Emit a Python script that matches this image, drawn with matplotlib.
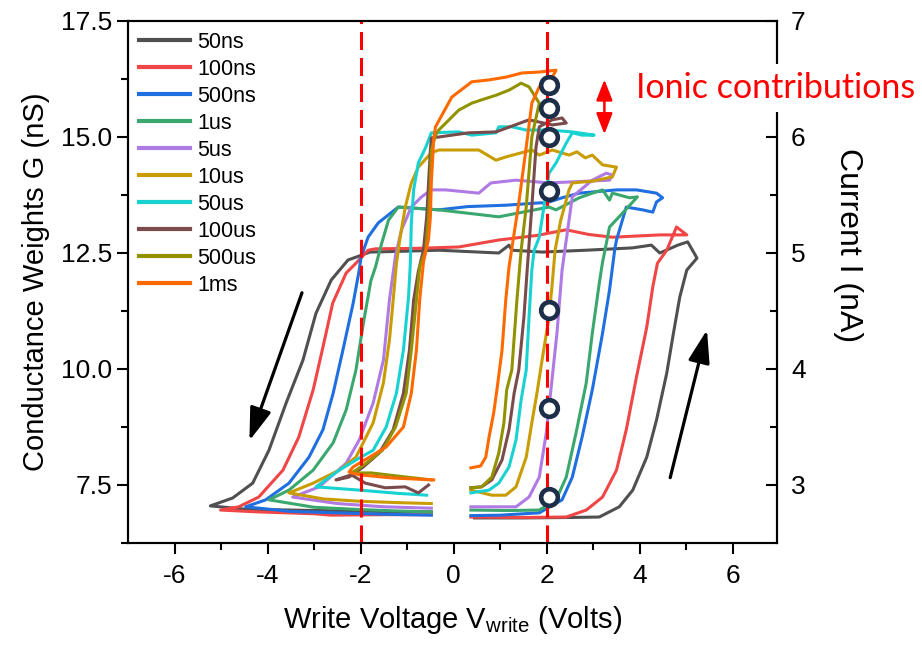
import numpy as np
import matplotlib
matplotlib.use('Agg')
from matplotlib import pyplot as plt

plt.rcParams['font.family'] = ['Liberation Sans', 'DejaVu Sans']
plt.rcParams['axes.unicode_minus'] = False

# pulse widths and colours
labels = ['50ns', '100ns', '500ns', '1us', '5us', '10us', '50us', '100us', '500us', '1ms']
colors = ['#505050', '#f04646', '#1f6fe0', '#3aa86e', '#b07ae4', '#c99c04', '#18d2d2', '#7a4b4b', '#929200', '#ff6a00']

# hysteresis loops (write voltage V, conductance nS)
v_50ns = [0.45, 1.5, 2.5, 3.13, 3.56, 3.85, 4.15, 4.36, 4.58, 4.71, 4.86, 5.01, 5.23, 5.03, 4.82, 4.43, 4.25, 3.84, 2.85, 1.9, 1.25, 1.19, 0.97, -0.32, -1.0, -1.8, -2.1, -2.27, -2.63, -2.96, -3.24, -3.6, -3.97, -4.32, -4.75, -5.23, -4.5, -3.0, -1.5, -0.48]
g_50ns = [6.79, 6.79, 6.8, 6.81, 7.03, 7.39, 8.1, 8.9, 9.91, 10.69, 11.55, 12.13, 12.39, 12.74, 12.67, 12.5, 12.67, 12.61, 12.56, 12.52, 12.56, 12.67, 12.5, 12.56, 12.54, 12.52, 12.41, 12.35, 11.92, 11.2, 10.19, 9.27, 8.25, 7.54, 7.22, 7.05, 6.98, 6.95, 6.93, 6.92]

v_100ns = [0.37, 1.5, 2.42, 2.85, 3.2, 3.5, 3.71, 3.93, 4.15, 4.28, 4.38, 4.58, 4.79, 5.01, 4.43, 3.41, 2.9, 2.42, 1.8, 0.97, 0.11, -0.8, -1.68, -1.84, -2.1, -2.31, -2.6, -2.81, -3.02, -3.33, -3.67, -4.19, -4.62, -5.01, -4.2, -3.0, -2.63, -1.5, -0.48]
g_100ns = [6.81, 6.8, 6.81, 6.96, 7.24, 7.82, 8.69, 9.83, 10.9, 11.77, 12.28, 12.56, 13.06, 12.89, 12.89, 12.84, 12.9, 13.0, 12.88, 12.78, 12.63, 12.6, 12.59, 12.56, 12.28, 12.07, 11.42, 10.47, 9.55, 8.53, 7.82, 7.24, 7.03, 6.96, 6.92, 6.88, 6.85, 6.86, 6.86]

v_500ns = [0.37, 1.0, 1.84, 2.33, 2.55, 2.76, 2.98, 3.2, 3.35, 3.46, 3.5, 3.71, 4.06, 4.28, 4.36, 4.49, 4.36, 3.93, 3.5, 2.7, 2.33, 1.99, 1.84, 1.12, 0.3, -0.32, -1.19, -1.62, -1.84, -1.99, -2.03, -2.16, -2.38, -2.59, -2.81, -3.11, -3.54, -4.04, -4.47, -3.5, -2.5, -1.5, -0.48]
g_500ns = [6.84, 6.85, 6.9, 7.18, 7.67, 8.53, 9.55, 10.77, 11.7, 12.56, 12.78, 13.49, 13.43, 13.38, 13.6, 13.69, 13.79, 13.86, 13.86, 13.79, 13.69, 13.58, 13.58, 13.53, 13.5, 13.43, 13.49, 13.15, 12.84, 12.41, 12.13, 11.42, 10.41, 9.48, 8.69, 8.1, 7.54, 7.18, 7.03, 6.93, 6.9, 6.87, 6.85]

v_1us = [0.37, 1.2, 1.84, 2.2, 2.42, 2.63, 2.85, 2.98, 3.13, 3.2, 3.3, 3.35, 3.63, 3.95, 3.78, 3.41, 3.35, 3.2, 2.98, 2.7, 2.2, 2.05, 0.97, -0.32, -1.19, -1.4, -1.55, -1.68, -1.78, -1.94, -2.1, -2.31, -2.59, -3.02, -3.54, -3.97, -3.0, -2.0, -1.2, -0.48]
g_1us = [6.96, 6.95, 6.96, 7.18, 7.67, 8.62, 9.7, 10.77, 11.85, 12.3, 12.8, 13.06, 13.36, 13.71, 13.69, 13.79, 13.64, 13.86, 13.79, 13.69, 13.43, 13.49, 13.28, 13.43, 13.49, 13.21, 12.7, 12.2, 11.9, 10.99, 9.98, 9.12, 8.41, 7.82, 7.39, 7.18, 7.02, 6.97, 6.94, 6.92]

v_5us = [0.37, 1.34, 1.62, 1.84, 1.99, 2.12, 2.22, 2.33, 2.42, 2.55, 2.98, 3.28, 3.41, 3.35, 2.48, 2.05, 1.34, 0.8, 0.54, -0.17, -0.48, -0.69, -0.91, -1.12, -1.25, -1.38, -1.51, -1.73, -2.03, -2.31, -2.89, -3.46, -2.5, -1.5, -0.48]
g_5us = [7.03, 7.03, 7.24, 7.67, 8.62, 9.83, 10.77, 12.13, 12.78, 13.71, 14.07, 14.22, 14.18, 14.07, 14.03, 14.01, 14.07, 14.01, 13.79, 13.86, 13.86, 13.71, 13.49, 13.0, 12.45, 11.49, 10.19, 9.27, 8.47, 7.97, 7.46, 7.24, 7.1, 7.03, 7.0]

v_10us = [0.37, 0.82, 1.12, 1.34, 1.56, 1.68, 1.79, 1.9, 2.05, 2.12, 2.18, 2.3, 2.48, 2.55, 3.0, 3.41, 3.5, 3.2, 2.98, 2.83, 2.65, 2.48, 2.12, 1.84, 1.68, 1.12, 0.91, 0.54, -0.32, -0.48, -0.76, -0.91, -1.04, -1.15, -1.23, -1.3, -1.38, -1.51, -1.73, -2.1, -2.46, -3.02, -3.54, -2.8, -2.03, -1.2, -0.48]
g_10us = [7.39, 7.28, 7.28, 7.46, 8.1, 8.84, 9.48, 10.19, 11.12, 11.85, 12.56, 13.2, 13.86, 14.01, 14.05, 14.14, 14.35, 14.4, 14.61, 14.55, 14.68, 14.61, 14.72, 14.61, 14.72, 14.57, 14.5, 14.72, 14.72, 14.66, 14.35, 14.01, 13.49, 12.84, 12.28, 11.49, 10.63, 9.7, 8.84, 8.1, 7.82, 7.54, 7.33, 7.2, 7.15, 7.12, 7.1]

v_50us = [0.37, 0.76, 0.97, 1.19, 1.34, 1.45, 1.56, 1.62, 1.68, 1.73, 1.84, 2.05, 2.2, 2.42, 2.55, 2.76, 3.02, 2.55, 2.05, 1.56, 1.25, 0.97, 0.91, 0.39, 0.11, -0.48, -0.6, -0.76, -0.86, -0.91, -0.93, -0.97, -1.08, -1.23, -1.45, -1.73, -2.03, -2.46, -2.96, -2.03, -1.2, -0.58]
g_50us = [7.33, 7.39, 7.54, 7.89, 8.47, 9.33, 9.98, 11.12, 12.13, 12.56, 12.84, 14.22, 14.44, 14.87, 15.09, 15.04, 15.04, 15.11, 15.15, 15.15, 15.22, 15.22, 15.09, 15.04, 15.11, 15.09, 14.78, 14.44, 13.86, 13.15, 12.3, 11.55, 10.41, 9.48, 8.75, 8.25, 8.08, 7.82, 7.46, 7.39, 7.32, 7.28]

v_100us = [0.37, 0.6, 0.82, 1.04, 1.19, 1.3, 1.4, 1.51, 1.58, 1.68, 1.77, 1.84, 2.12, 2.33, 2.42, 2.12, 1.62, 0.91, 0.32, -0.32, -0.48, -0.5, -0.54, -0.58, -0.65, -0.76, -0.86, -0.95, -1.08, -1.3, -1.6, -1.94, -2.25, -2.53, -2.2, -1.9, -1.47, -1.04, -0.76, -0.54]
g_100us = [7.44, 7.46, 7.61, 8.04, 8.69, 9.48, 9.98, 11.12, 12.13, 13.5, 14.78, 15.22, 15.37, 15.41, 15.3, 15.26, 15.37, 15.11, 15.09, 15.0, 14.98, 14.72, 14.01, 13.28, 12.56, 12.1, 11.49, 10.41, 9.48, 8.69, 8.19, 7.89, 7.67, 7.61, 7.72, 7.54, 7.44, 7.46, 7.33, 7.5]

v_500us = [0.37, 0.6, 0.82, 0.97, 1.08, 1.14, 1.25, 1.36, 1.45, 1.56, 1.68, 1.84, 1.62, 1.45, 1.19, 0.91, 0.6, 0.39, 0.11, -0.32, -0.39, -0.48, -0.5, -0.54, -0.6, -0.73, -0.8, -0.91, -1.02, -1.25, -1.53, -1.88, -2.1, -2.2, -1.77, -1.1, -0.48]
g_500us = [7.44, 7.46, 7.67, 8.19, 8.84, 9.55, 9.98, 11.49, 12.56, 13.49, 15.0, 15.73, 16.08, 16.16, 16.01, 15.9, 15.8, 15.73, 15.58, 15.15, 15.04, 14.72, 14.01, 13.28, 12.56, 12.2, 11.49, 10.41, 9.48, 8.75, 8.25, 7.97, 7.82, 7.76, 7.76, 7.68, 7.61]

v_1ms = [0.37, 0.58, 0.69, 0.76, 0.86, 0.93, 1.04, 1.12, 1.19, 1.4, 1.56, 1.68, 1.84, 2.12, 2.2, 1.84, 1.47, 1.12, 0.76, 0.39, -0.04, -0.39, -0.43, -0.48, -0.5, -0.54, -0.65, -0.73, -0.8, -0.91, -1.08, -1.45, -1.81, -2.16, -2.25, -2.03, -1.3, -0.43]
g_1ms = [7.87, 7.91, 8.1, 8.53, 9.05, 9.55, 10.41, 11.49, 12.2, 13.58, 14.78, 15.73, 16.08, 16.29, 16.44, 16.4, 16.38, 16.29, 16.23, 16.19, 15.86, 15.22, 14.94, 14.01, 13.28, 12.8, 12.3, 11.49, 10.41, 9.48, 8.75, 8.32, 8.1, 7.89, 7.78, 7.72, 7.65, 7.61]

v_loops = [v_50ns, v_100ns, v_500ns, v_1us, v_5us, v_10us, v_50us, v_100us, v_500us, v_1ms]
g_loops = [g_50ns, g_100ns, g_500ns, g_1us, g_5us, g_10us, g_50us, g_100us, g_500us, g_1ms]

# read points at V = 2 V
marker_v = [2.05, 2.05, 2.05, 2.05, 2.05, 2.05, 2.05]
marker_g = [16.12, 15.63, 15.0, 13.84, 11.27, 9.16, 7.24]

fig = plt.figure(figsize=(9.22, 6.46), dpi=100)
ax = fig.add_axes([128/922, 1-543/646, 649/922, 522/646])

for v, g, c, lab in zip(v_loops, g_loops, colors, labels):
    ax.plot(v, g, color=c, lw=2.2, label=lab)

# read voltage lines
for xv in (-2, 2):
    ax.axvline(xv, color='red', lw=2.2, ls=(0, (5.9, 2.6)), zorder=4)

ax.plot(marker_v, marker_g, 'o', ls='none', ms=12, mfc='white', mec='#1c2e48', mew=3.3, zorder=6)

# sweep direction arrows
ax.annotate('', xy=(-4.41, 8.4), xytext=(-3.24, 11.7),
            arrowprops=dict(arrowstyle='-|>,head_length=1.0,head_width=0.33', color='black', lw=2.3, mutation_scale=20))
ax.annotate('', xy=(5.46, 10.9), xytext=(4.64, 7.6),
            arrowprops=dict(arrowstyle='-|>,head_length=1.0,head_width=0.33', color='black', lw=2.3, mutation_scale=20))

ax.set_xlim(-7.0, 6.95)
ax.set_ylim(6.25, 17.5)
ax.set_xticks([-6, -4, -2, 0, 2, 4, 6])
ax.set_xticks([-5, -3, -1, 1, 3, 5], minor=True)
ax.set_yticks([7.5, 10.0, 12.5, 15.0, 17.5])
ax.set_yticklabels(['7.5', '10.0', '12.5', '15.0', '17.5'])
ax.set_yticks([6.25, 8.75, 11.25, 13.75, 16.25], minor=True)
ax.tick_params(which='both', direction='out', width=1.5, labelsize=19, right=False, top=False)
ax.tick_params(axis='x', which='major', pad=7)
ax.tick_params(which='major', length=8)
ax.tick_params(which='minor', length=5)
for s in ax.spines.values():
    s.set_linewidth(1.5)

ax.set_xlabel('Write Voltage V$_{\\mathregular{write}}$ (Volts)', fontsize=21, labelpad=12)
ax.set_ylabel('Conductance Weights G (nS)', fontsize=21, labelpad=8)

leg = ax.legend(loc='upper left', frameon=False, fontsize=15.5, handlelength=2.4, handletextpad=0.3,
                labelspacing=0.28, borderpad=0.1, borderaxespad=0.4)
for h in leg.legend_handles:
    h.set_linewidth(3)

# current axis on the right
ax2 = ax.twinx()
ax2.set_ylim(2.5, 7.0)
ax2.set_yticks([3, 4, 5, 6, 7])
ax2.set_yticks([3.5, 4.5, 5.5, 6.5], minor=True)
ax2.tick_params(which='both', direction='in', width=1.5, labelsize=19, pad=10)
ax2.tick_params(which='major', length=8)
ax2.tick_params(which='minor', length=5)
for s in ax2.spines.values():
    s.set_linewidth(1.5)
ax2.set_ylabel('Current I (nA)', fontsize=23, rotation=270, va='center')
ax2.yaxis.set_label_coords(1.11, 0.57)

# ionic contribution marker
ax2.annotate('', xy=(3.24, 16.3 / 2.5), xytext=(3.24, 15.0 / 2.5),
             arrowprops=dict(arrowstyle='<|-|>,head_length=0.9,head_width=0.35', color='red', lw=1.8, mutation_scale=14))
ax2.text(3.93, 16.06 / 2.5, 'Ionic contributions', color='red', fontsize=24.5, family=['Lato', 'DejaVu Sans'],
         va='center', ha='left', clip_on=False, zorder=10,
         bbox=dict(facecolor='white', edgecolor='none', pad=6))

fig.savefig('out.png', dpi=100)
